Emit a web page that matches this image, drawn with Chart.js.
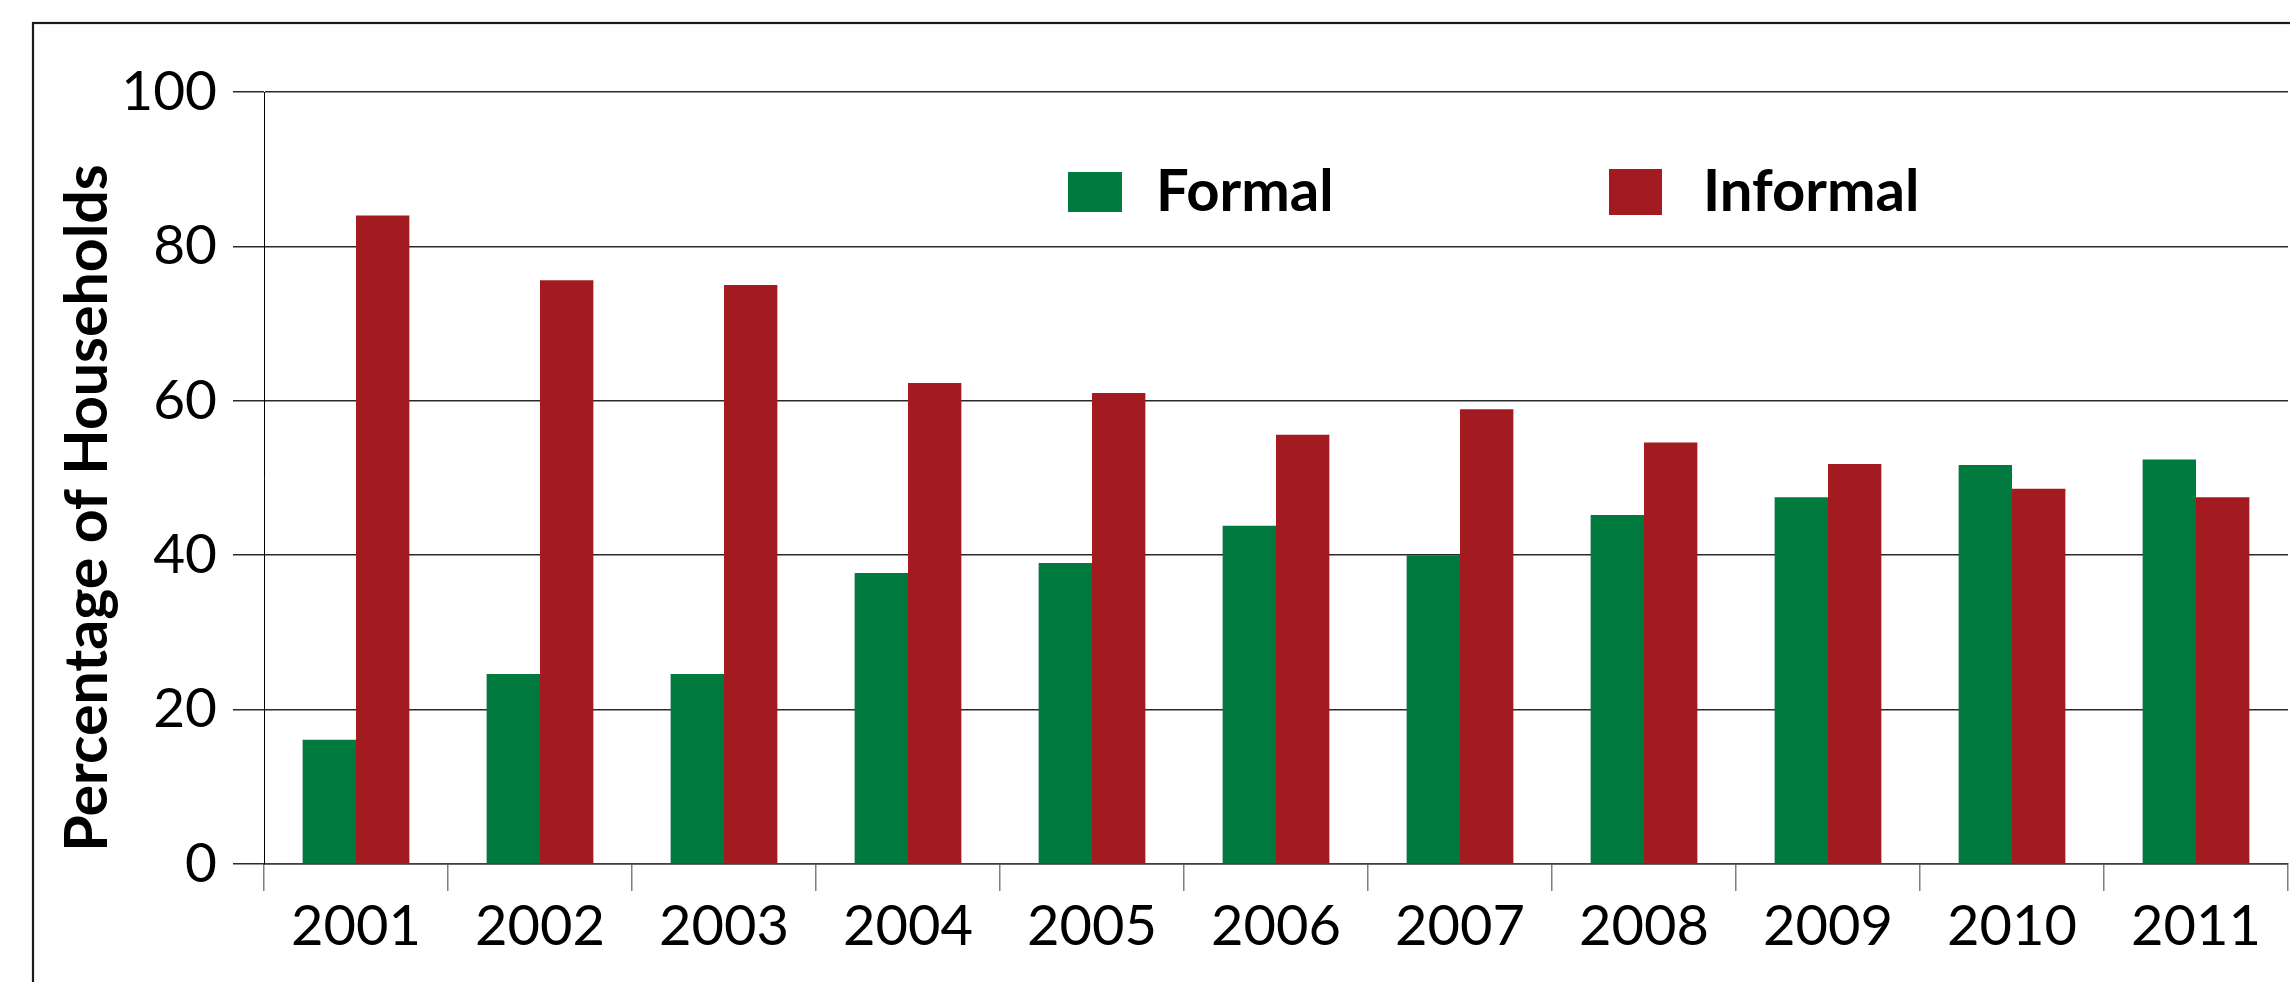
<!DOCTYPE html>
<html>
<head>
<meta charset="utf-8">
<script src="https://cdn.jsdelivr.net/npm/chart.js@4"></script>
<style>
  html, body { margin: 0; padding: 0; background: #ffffff; }
  #wrap { width: 2290px; height: 982px; }
</style>
</head>
<body>
<div id="wrap"><canvas id="c" width="2290" height="982"></canvas></div>
<script>
// ---- data ----
const years = ['2001','2002','2003','2004','2005','2006','2007','2008','2009','2010','2011'];
const formal   = [16.1, 24.6, 24.6, 37.7, 39.0, 43.8, 40.0, 45.2, 47.5, 51.7, 52.4];
const informal = [84.0, 75.6, 75.0, 62.3, 61.0, 55.6, 58.9, 54.6, 51.8, 48.6, 47.5];
const yTicks = [0, 20, 40, 60, 80, 100];
const seriesNames = ['Formal', 'Informal'];
const yTitle = 'Percentage of Households';

const GREEN = '#007a3e';
const RED = '#a31b21';

// outer frame, drawn behind everything
const framePlugin = {
  id: 'frame',
  beforeDraw(chart) {
    const ctx = chart.ctx;
    ctx.save();
    ctx.fillStyle = '#ffffff';
    ctx.fillRect(0, 0, chart.width, chart.height);
    ctx.strokeStyle = '#1a1a1a';
    ctx.lineWidth = 2.2;
    ctx.strokeRect(33, 23, 4000, 4000);
    ctx.restore();
  }
};

// y-axis title and legend
const textPlugin = {
  id: 'texts',
  afterDraw(chart) {
    const ctx = chart.ctx;
    ctx.save();
    // y title
    ctx.translate(88, 508);
    ctx.rotate(-Math.PI / 2);
    ctx.font = 'bold 59px Lato';
    ctx.fillStyle = '#000';
    ctx.textAlign = 'center';
    ctx.textBaseline = 'middle';
    ctx.fillText(yTitle, 0, 0);
    ctx.restore();

    // legend
    const items = [
      { box: [1068, 172, 54, 40], tx: 1156, ty: 211 },
      { box: [1609, 169, 53, 46], tx: 1703, ty: 211 }
    ];
    ctx.save();
    ctx.font = 'bold 58px Lato';
    ctx.textAlign = 'left';
    ctx.textBaseline = 'alphabetic';
    chart.data.datasets.forEach((ds, i) => {
      const it = items[i];
      ctx.fillStyle = ds.backgroundColor;
      ctx.fillRect(it.box[0], it.box[1], it.box[2], it.box[3]);
      ctx.fillStyle = '#000';
      ctx.fillText(ds.label, it.tx, it.ty);
    });
    ctx.restore();
  }
};

new Chart(document.getElementById('c'), {
  type: 'bar',
  data: {
    labels: years,
    datasets: [
      { label: seriesNames[0], data: formal, backgroundColor: GREEN, borderWidth: 0 },
      { label: seriesNames[1], data: informal, backgroundColor: RED, borderWidth: 0 }
    ]
  },
  options: {
    responsive: false,
    animation: false,
    devicePixelRatio: 1,
    layout: { padding: { top: 92, right: 2, left: 0, bottom: 0 } },
    datasets: { bar: { categoryPercentage: 0.58, barPercentage: 1.0 } },
    plugins: {
      legend: { display: false },
      tooltip: { enabled: false },
      title: { display: false }
    },
    scales: {
      x: {
        offset: true,
        grid: {
          offset: true,
          drawOnChartArea: false,
          drawTicks: true,
          tickLength: 27,
          color: '#7f7f7f',
          lineWidth: 1.5
        },
        border: { display: true, color: '#404040', width: 1.5 },
        ticks: {
          color: '#000',
          font: { family: 'Lato', size: 56 },
          padding: 2,
          maxRotation: 0,
          autoSkip: false
        },
        afterFit(scale) { scale.height = 118; }
      },
      y: {
        min: 0,
        max: 100,
        afterBuildTicks(scale) { scale.ticks = yTicks.map(v => ({ value: v })); },
        grid: {
          color: '#2a2a2a',
          lineWidth: 1.5,
          drawTicks: true,
          tickLength: 31
        },
        border: { display: true, color: '#000', width: 1 },
        ticks: {
          color: '#000',
          font: { family: 'Lato', size: 55 },
          padding: 16
        },
        afterFit(scale) { scale.width = 264; }
      }
    }
  },
  plugins: [framePlugin, textPlugin]
});
</script>
</body>
</html>
